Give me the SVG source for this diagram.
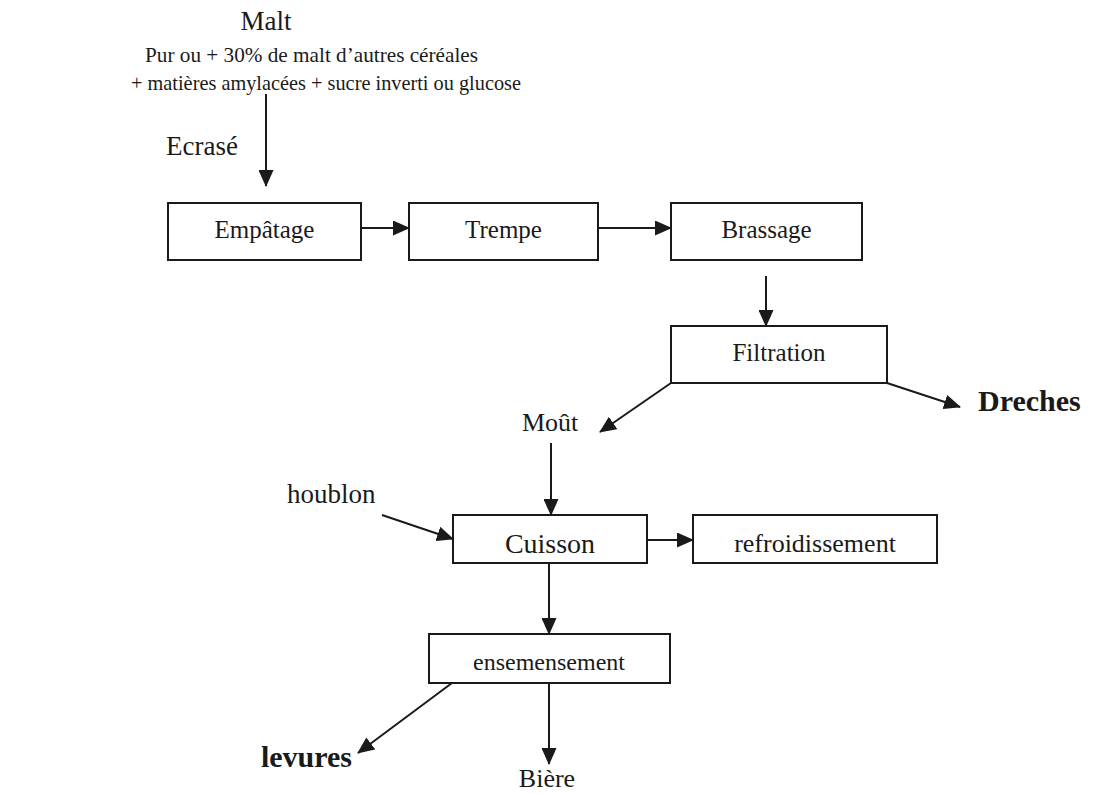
<svg xmlns="http://www.w3.org/2000/svg" width="1094" height="794" viewBox="0 0 1094 794">
<style>
text{font-family:"Liberation Serif","Times New Roman",serif;fill:#1a1a1a}
.b{font-weight:bold}
.box rect{fill:#fff;stroke:#1a1a1a;stroke-width:2}
.c{stroke:#1a1a1a;stroke-width:2;fill:none;marker-end:url(#ah)}
</style>
<defs>
<marker id="ah" markerUnits="userSpaceOnUse" markerWidth="17" markerHeight="15" refX="16" refY="7.5" orient="auto">
<path d="M0,0 L17,7.5 L0,15 z" fill="#1a1a1a"/>
</marker>
</defs>
<rect width="1094" height="794" fill="#fff"/>
<g id="source">
<text x="266" y="30" font-size="27" text-anchor="middle">Malt</text>
<text x="145" y="62" font-size="22" textLength="333" lengthAdjust="spacingAndGlyphs">Pur ou + 30% de malt d’autres céréales</text>
<text x="131" y="90" font-size="22" textLength="390" lengthAdjust="spacingAndGlyphs">+ matières amylacées + sucre inverti ou glucose</text>
</g>
<g id="ecrase"><text x="166" y="155" font-size="27">Ecrasé</text></g>
<g id="empatage" class="box"><rect x="168" y="203" width="193" height="57"/><text x="264.5" y="238" font-size="25" text-anchor="middle">Empâtage</text></g>
<g id="trempe" class="box"><rect x="409" y="203" width="189" height="57"/><text x="503.5" y="238" font-size="25" text-anchor="middle">Trempe</text></g>
<g id="brassage" class="box"><rect x="671" y="203" width="191" height="57"/><text x="766.5" y="238" font-size="25" text-anchor="middle">Brassage</text></g>
<g id="filtration" class="box"><rect x="671" y="326" width="216" height="57"/><text x="779" y="361" font-size="25" text-anchor="middle">Filtration</text></g>
<g id="dreches"><text class="b" x="978" y="411" font-size="30">Dreches</text></g>
<g id="mout"><text x="522" y="431" font-size="26">Moût</text></g>
<g id="houblon"><text x="287" y="503" font-size="27">houblon</text></g>
<g id="cuisson" class="box"><rect x="453" y="515" width="194" height="48"/><text x="550" y="553" font-size="28" text-anchor="middle">Cuisson</text></g>
<g id="refroidissement" class="box"><rect x="693" y="515" width="244" height="48"/><text x="815" y="552" font-size="26" text-anchor="middle">refroidissement</text></g>
<g id="ensemensement" class="box"><rect x="429" y="634" width="241" height="49"/><text x="549" y="670" font-size="24" text-anchor="middle">ensemensement</text></g>
<g id="levures"><text class="b" x="352" y="767" font-size="30" text-anchor="end">levures</text></g>
<g id="biere"><text x="547" y="787" font-size="26" text-anchor="middle">Bière</text></g>
<g id="connectors">
<line class="c" x1="266" y1="94" x2="266" y2="186"/>
<line class="c" x1="361" y1="228" x2="409" y2="228"/>
<line class="c" x1="598" y1="228" x2="671" y2="228"/>
<line class="c" x1="766" y1="276" x2="766" y2="326"/>
<line class="c" x1="671" y1="383" x2="600" y2="432"/>
<line class="c" x1="887" y1="383" x2="960" y2="407"/>
<line class="c" x1="551" y1="443" x2="551" y2="515"/>
<line class="c" x1="382" y1="515" x2="453" y2="539"/>
<line class="c" x1="647" y1="540" x2="693" y2="540"/>
<line class="c" x1="549" y1="563" x2="549" y2="634"/>
<line class="c" x1="452" y1="683" x2="358" y2="753"/>
<line class="c" x1="549" y1="683" x2="549" y2="764"/>
</g>
</svg>
